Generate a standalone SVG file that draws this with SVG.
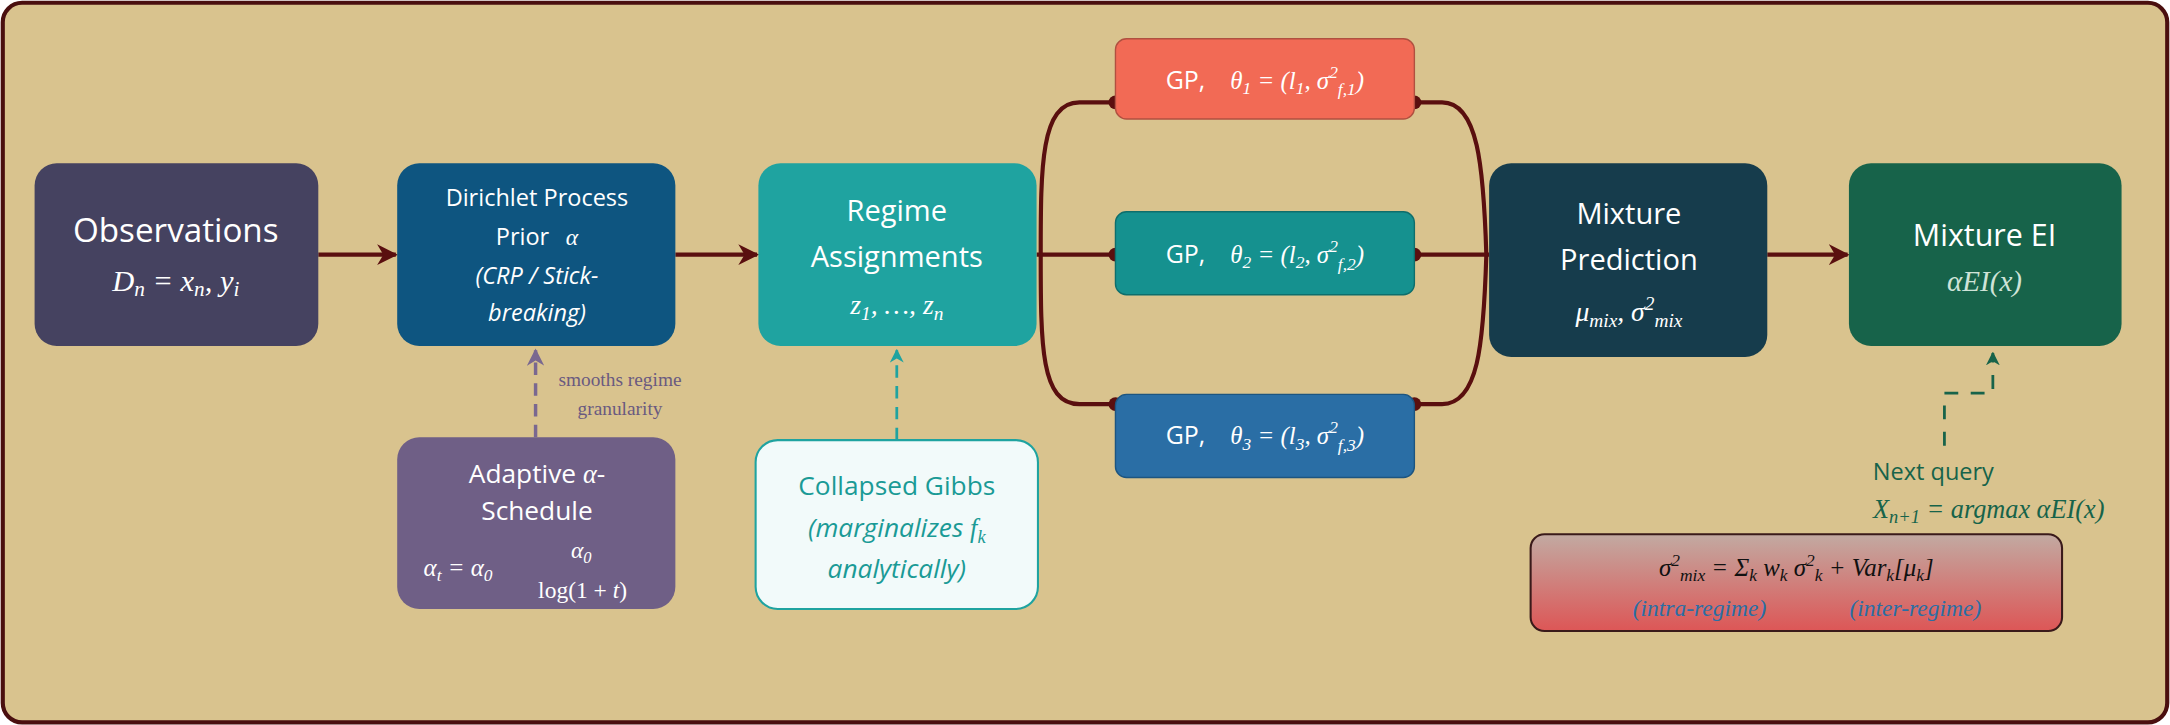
<svg xmlns="http://www.w3.org/2000/svg" width="2170" height="725" viewBox="0 0 2170 725">
<defs>
<style>
.t{font-family:"Open Sans","DejaVu Sans",sans-serif;fill:#fff;text-anchor:middle}
.m{font-family:"Liberation Serif","DejaVu Serif",serif;font-style:italic;text-anchor:middle}
.s{font-size:70%}
.c{fill:none;stroke:#5a0f0f;stroke-width:3}
.dot{fill:#5a0f0f}
</style>
<marker id="ar" viewBox="0 0 10 10" refX="9" refY="5" markerWidth="5" markerHeight="5" orient="auto"><path d="M0,0L10,5L0,10L3,5z" fill="#5a0f0f"/></marker>
<marker id="ap" viewBox="0 0 10 10" refX="9" refY="5" markerWidth="5" markerHeight="5" orient="auto"><path d="M0,0L10,5L0,10L3,5z" fill="#7a6890"/></marker>
<marker id="at" viewBox="0 0 10 10" refX="9" refY="5" markerWidth="5" markerHeight="5" orient="auto"><path d="M0,0L10,5L0,10L3,5z" fill="#1fa3a0"/></marker>
<marker id="ag" viewBox="0 0 10 10" refX="9" refY="5" markerWidth="5" markerHeight="5" orient="auto"><path d="M0,0L10,5L0,10L3,5z" fill="#17634a"/></marker>
<linearGradient id="fg" x1="0" y1="0" x2="0" y2="1"><stop offset="0" stop-color="#c2aaa2"/><stop offset="1" stop-color="#dd5656"/></linearGradient>
</defs>
<g transform="scale(1.38393)">
<rect x="2" y="2" width="1564" height="520" rx="14" fill="#d9c38e" stroke="#4a0f0f" stroke-width="3"/>
<g id="connectors">
<line class="c" x1="230" y1="184" x2="286" y2="184" marker-end="url(#ar)"/>
<line class="c" x1="488" y1="184" x2="547" y2="184" marker-end="url(#ar)"/>
<line class="c" x1="749" y1="184" x2="806" y2="184"/>
<path class="c" d="M806,74 H780 C752,74 752,120 752,184 C752,250 752,292 780,292 H806"/>
<path class="c" d="M1022,74 H1042 C1068,74 1072,120 1074,184 C1072,250 1068,292 1042,292 H1022"/>
<line class="c" x1="1022" y1="184" x2="1076" y2="184"/>
<line class="c" x1="1277" y1="184" x2="1335" y2="184" marker-end="url(#ar)"/>
<circle class="dot" cx="806" cy="74" r="5"/><circle class="dot" cx="806" cy="184" r="5"/><circle class="dot" cx="806" cy="292" r="5"/>
<circle class="dot" cx="1022" cy="74" r="5"/><circle class="dot" cx="1022" cy="184" r="5"/><circle class="dot" cx="1022" cy="292" r="5"/>
<line x1="387" y1="316" x2="387" y2="253" stroke="#7a6890" stroke-width="2.5" stroke-dasharray="9,6" marker-end="url(#ap)"/>
<line x1="648" y1="318" x2="648" y2="253" stroke="#1fa3a0" stroke-width="2" stroke-dasharray="9,6" marker-end="url(#at)"/>
<path d="M1405,322 V284 H1440 V255" fill="none" stroke="#17634a" stroke-width="2" stroke-dasharray="10,9" marker-end="url(#ag)"/>
<text x="448" y="279" font-family="Liberation Serif,serif" font-size="14" fill="#6a5a80" text-anchor="middle">smooths regime</text>
<text x="448" y="300" font-family="Liberation Serif,serif" font-size="14" fill="#6a5a80" text-anchor="middle">granularity</text>
</g>
<g id="obs"><rect x="25" y="118" width="205" height="132" rx="16" fill="#454260"/>
<text class="t" x="127" y="175" font-size="24">Observations</text>
<text class="m" x="127" y="210" font-size="22" fill="#fff">D<tspan class="s" dy="4">n</tspan><tspan dy="-4"> = x</tspan><tspan class="s" dy="4">n</tspan><tspan dy="-4">, y</tspan><tspan class="s" dy="4">i</tspan></text></g>
<g id="dir"><rect x="287" y="118" width="201" height="132" rx="16" fill="#0e5580"/>
<text class="t" x="388" y="149" font-size="17">Dirichlet Process</text>
<text class="t" x="388" y="177" font-size="17">Prior<tspan dx="12" font-family="Liberation Serif,serif" font-style="italic">α</tspan></text>
<text class="t" x="388" y="205" font-size="17" font-style="italic" fill="#9cc6e4">(CRP / Stick-</text>
<text class="t" x="388" y="232" font-size="17" font-style="italic" fill="#9cc6e4">breaking)</text></g>
<g id="regime"><rect x="548" y="118" width="201" height="132" rx="16" fill="#1fa3a0"/>
<text class="t" x="648" y="160" font-size="21">Regime</text>
<text class="t" x="648" y="193" font-size="21">Assignments</text>
<text class="m" x="648" y="227" font-size="20" fill="#fff">z<tspan class="s" dy="4">1</tspan><tspan dy="-4">, …, z</tspan><tspan class="s" dy="4">n</tspan></text></g>
<g id="gp1"><rect x="806" y="28" width="216" height="58" rx="8" fill="#f26a55" stroke="#b05040"/>
<text class="t" x="914" y="64" font-size="18">GP,<tspan dx="18" font-family="Liberation Serif,serif" font-style="italic">θ<tspan class="s" dy="4">1</tspan><tspan dy="-4"> = (l</tspan><tspan class="s" dy="4">1</tspan><tspan dy="-4">, σ</tspan><tspan class="s" dy="-8">2</tspan><tspan class="s" dy="13">f,1</tspan><tspan dy="-5">)</tspan></tspan></text></g>
<g id="gp2"><rect x="806" y="153" width="216" height="60" rx="8" fill="#15918f" stroke="#0e6e6c"/>
<text class="t" x="914" y="190" font-size="18">GP,<tspan dx="18" font-family="Liberation Serif,serif" font-style="italic">θ<tspan class="s" dy="4">2</tspan><tspan dy="-4"> = (l</tspan><tspan class="s" dy="4">2</tspan><tspan dy="-4">, σ</tspan><tspan class="s" dy="-8">2</tspan><tspan class="s" dy="13">f,2</tspan><tspan dy="-5">)</tspan></tspan></text></g>
<g id="gp3"><rect x="806" y="285" width="216" height="60" rx="8" fill="#2a6ea5" stroke="#1d5580"/>
<text class="t" x="914" y="321" font-size="18">GP,<tspan dx="18" font-family="Liberation Serif,serif" font-style="italic">θ<tspan class="s" dy="4">3</tspan><tspan dy="-4"> = (l</tspan><tspan class="s" dy="4">3</tspan><tspan dy="-4">, σ</tspan><tspan class="s" dy="-8">2</tspan><tspan class="s" dy="13">f,3</tspan><tspan dy="-5">)</tspan></tspan></text></g>
<g id="mixpred"><rect x="1076" y="118" width="201" height="140" rx="16" fill="#163c4c"/>
<text class="t" x="1177" y="162" font-size="21">Mixture</text>
<text class="t" x="1177" y="195" font-size="21">Prediction</text>
<text class="m" x="1177" y="232" font-size="20" fill="#fff">μ<tspan class="s" dy="4">mix</tspan><tspan dy="-4">, σ</tspan><tspan class="s" dy="-8">2</tspan><tspan class="s" dy="12">mix</tspan></text></g>
<g id="mixei"><rect x="1336" y="118" width="197" height="132" rx="16" fill="#17634a"/>
<text class="t" x="1434" y="178" font-size="22">Mixture EI</text>
<text class="m" x="1434" y="210" font-size="21" fill="#cfe3d8">αEI(x)</text></g>
<g id="adaptive"><rect x="287" y="316" width="201" height="124" rx="16" fill="#6f5f86"/>
<text class="t" x="388" y="349" font-size="19">Adaptive <tspan font-family="Liberation Serif,serif" font-style="italic">α</tspan>-</text>
<text class="t" x="388" y="376" font-size="19">Schedule</text>
<text class="m" x="420" y="403" font-size="17" fill="#fff">α<tspan class="s" dy="4">0</tspan></text>
<text class="m" x="331" y="416" font-size="18" fill="#fff">α<tspan class="s" dy="4">t</tspan><tspan dy="-4"> = α</tspan><tspan class="s" dy="4">0</tspan></text>
<text x="421" y="432" font-family="Liberation Serif,serif" font-size="17" fill="#fff" text-anchor="middle">log(1 + <tspan font-style="italic">t</tspan>)</text></g>
<g id="gibbs"><rect x="546" y="318" width="204" height="122" rx="16" fill="#f2fafa" stroke="#1fa3a0" stroke-width="1.5"/>
<text class="t" x="648" y="358" font-size="19" style="fill:#1a9a96">Collapsed Gibbs</text>
<text class="t" x="648" y="388" font-size="19" font-style="italic" style="fill:#1a9a96">(marginalizes <tspan font-family="Liberation Serif,serif">f<tspan class="s" dy="4">k</tspan></tspan></text>
<text class="t" x="648" y="418" font-size="19" font-style="italic" style="fill:#1a9a96">analytically)</text></g>
<g id="nextq">
<text x="1397" y="347" font-family="Open Sans,sans-serif" font-size="17" fill="#17634a" text-anchor="middle">Next query</text>
<text class="m" x="1437" y="374" font-size="19" fill="#17634a">X<tspan class="s" dy="4">n+1</tspan><tspan dy="-4"> = argmax αEI(x)</tspan></text></g>
<g id="formula"><rect x="1106" y="386" width="384" height="70" rx="10" fill="url(#fg)" stroke="#3a1a1a" stroke-width="1.5"/>
<text class="m" x="1298" y="416" font-size="18" fill="#111">σ<tspan class="s" dy="-7">2</tspan><tspan class="s" dy="11">mix</tspan><tspan dy="-4"> = Σ</tspan><tspan class="s" dy="4">k</tspan><tspan dy="-4"> w</tspan><tspan class="s" dy="4">k</tspan><tspan dy="-4"> σ</tspan><tspan class="s" dy="-7">2</tspan><tspan class="s" dy="11">k</tspan><tspan dy="-4"> + Var</tspan><tspan class="s" dy="4">k</tspan><tspan dy="-4">[μ</tspan><tspan class="s" dy="4">k</tspan><tspan dy="-4">]</tspan></text>
<text class="m" x="1228" y="445" font-size="17" fill="#2a6ea5">(intra-regime)</text>
<text class="m" x="1384" y="445" font-size="17" fill="#2a6ea5">(inter-regime)</text></g>
</g>
</svg>
